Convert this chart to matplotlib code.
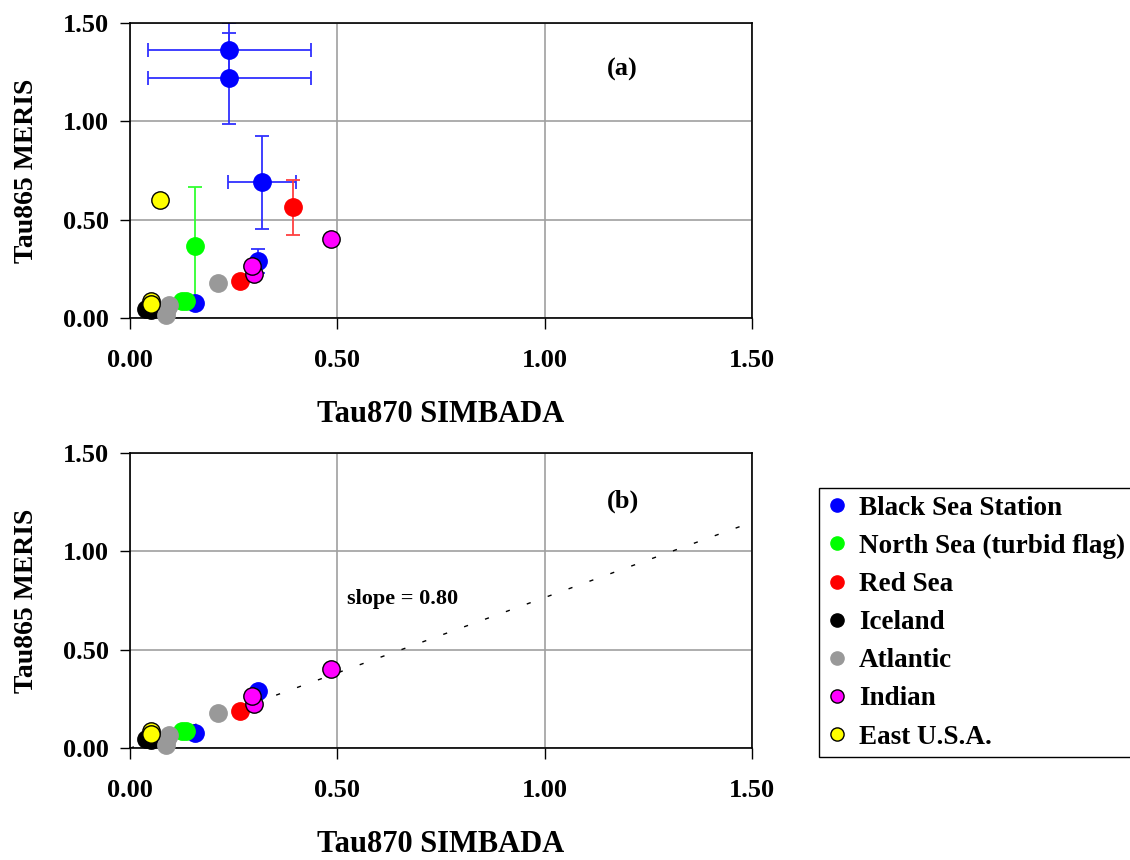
import matplotlib
matplotlib.use('Agg')
import matplotlib.pyplot as plt
from matplotlib.lines import Line2D

plt.rcParams['font.family'] = ['Liberation Serif', 'DejaVu Serif']
plt.rcParams['font.weight'] = 'bold'

# station names (legend order = drawing order)
stations = ['Black Sea Station', 'North Sea (turbid flag)', 'Red Sea', 'Iceland',
            'Atlantic', 'Indian', 'East U.S.A.']

# Tau870 SIMBADA (x), Tau865 MERIS (y), error bars, and whether the point is kept in panel (b)
black_sea_x = [0.240, 0.240, 0.319, 0.309, 0.158]
black_sea_y = [1.362, 1.218, 0.690, 0.292, 0.076]
black_sea_xerr = [0.197, 0.197, 0.082, 0.0, 0.0]
black_sea_yerr = [0.138, 0.230, 0.236, 0.061, 0.0]
black_sea_in_b = [False, False, False, True, True]

north_sea_x = [0.157, 0.126, 0.135]
north_sea_y = [0.369, 0.090, 0.088]
north_sea_xerr = [0.0, 0.0, 0.0]
north_sea_yerr = [0.296, 0.0, 0.0]
north_sea_in_b = [False, True, True]

red_sea_x = [0.393, 0.265]
red_sea_y = [0.563, 0.191]
red_sea_xerr = [0.0, 0.0]
red_sea_yerr = [0.139, 0.0]
red_sea_in_b = [False, True]

iceland_x = [0.038, 0.050, 0.045]
iceland_y = [0.045, 0.040, 0.055]

atlantic_x = [0.212, 0.094, 0.090, 0.087]
atlantic_y = [0.178, 0.068, 0.045, 0.018]

indian_x = [0.485, 0.299, 0.295]
indian_y = [0.401, 0.225, 0.267]

east_usa_x = [0.072, 0.050, 0.050]
east_usa_y = [0.600, 0.090, 0.075]
east_usa_in_b = [False, True, True]

slope_label = 'slope = 0.80'
fit_slope = 0.765  # as drawn in the figure

series = [
    (black_sea_x, black_sea_y, black_sea_xerr, black_sea_yerr, black_sea_in_b),
    (north_sea_x, north_sea_y, north_sea_xerr, north_sea_yerr, north_sea_in_b),
    (red_sea_x, red_sea_y, red_sea_xerr, red_sea_yerr, red_sea_in_b),
    (iceland_x, iceland_y, None, None, None),
    (atlantic_x, atlantic_y, None, None, None),
    (indian_x, indian_y, None, None, None),
    (east_usa_x, east_usa_y, None, None, east_usa_in_b),
]

face_colors = ['#0000FF', '#00FF00', '#FF0000', '#000000', '#999999', '#FF00FF', '#FFFF00']
edge_colors = ['#0000FF', '#00FF00', '#FF0000', '#000000', '#999999', '#000000', '#000000']
err_colors = ['#3030FF', '#30FF30', '#FF4040', None, None, None, None]


def setup_axes(ax):
    ax.set_xlim(0, 1.5)
    ax.set_ylim(0, 1.5)
    ticks = [0, 0.5, 1.0, 1.5]
    ax.set_xticks(ticks)
    ax.set_yticks(ticks)
    ax.set_xticklabels(['%.2f' % t for t in ticks])
    ax.set_yticklabels(['%.2f' % t for t in ticks])
    ax.grid(True, color='#A0A0A0', linewidth=1.2)
    ax.set_axisbelow(True)
    ax.tick_params(axis='x', direction='out', length=8, width=1, pad=14, labelsize=19)
    ax.tick_params(axis='y', direction='out', length=7, width=1, pad=8, labelsize=19)
    for s in ax.spines.values():
        s.set_color('black')
        s.set_linewidth(1.2)
    ax.set_xlabel('Tau870 SIMBADA', fontsize=22, fontweight='bold', labelpad=20)
    ax.set_ylabel('Tau865 MERIS', fontsize=20, fontweight='bold', labelpad=17)


fig = plt.figure(figsize=(11.3, 8.6), dpi=100)
ax_a = fig.add_axes([0.1150, 0.6299, 0.5505, 0.3437])
ax_b = fig.add_axes([0.1150, 0.1299, 0.5505, 0.3437])

for ax, panel in [(ax_a, 'a'), (ax_b, 'b')]:
    setup_axes(ax)
    for i, (xs, ys, xe, ye, keep) in enumerate(series):
        if panel == 'b' and keep is not None:
            idx = [k for k in range(len(xs)) if keep[k]]
        else:
            idx = list(range(len(xs)))
        px = [xs[k] for k in idx]
        py = [ys[k] for k in idx]
        if panel == 'a' and xe is not None:
            for k in idx:
                if xe[k] > 0 or ye[k] > 0:
                    ax.errorbar(xs[k], ys[k],
                                xerr=xe[k] if xe[k] > 0 else None,
                                yerr=ye[k] if ye[k] > 0 else None,
                                fmt='none', ecolor=err_colors[i], elinewidth=1.3,
                                capsize=5, capthick=1.3, zorder=2 + i * 0.1)
        ax.plot(px, py, linestyle='none', marker='o', markersize=12.5,
                markerfacecolor=face_colors[i], markeredgecolor=edge_colors[i],
                markeredgewidth=1.0, zorder=3 + i * 0.1, clip_on=False)

ax_a.text(1.186, 1.264, '(a)', fontsize=19, fontweight='bold', ha='center', va='center')
ax_b.text(1.19, 1.252, '(b)', fontsize=19, fontweight='bold', ha='center', va='center')

ax_b.plot([0, 1.5], [0, 1.5 * fit_slope], color='black', linewidth=1.0,
          linestyle=(0, (3, 13)), zorder=2)
ax_b.text(0.657, 0.756, slope_label, fontsize=16, fontweight='bold', ha='center', va='center')

handles = [Line2D([], [], linestyle='none', marker='o', markersize=9.5,
                  markerfacecolor=face_colors[i], markeredgecolor=edge_colors[i],
                  markeredgewidth=1.0) for i in range(len(stations))]
leg = fig.legend(handles, stations, loc='upper left', bbox_to_anchor=(0.7248, 0.4325),
                 frameon=True, fancybox=False, framealpha=1, edgecolor='black',
                 prop={'size': 19.5, 'weight': 'bold'}, handlelength=0.8,
                 handletextpad=0.4, labelspacing=0.485, borderpad=0.28, borderaxespad=0)
leg.get_frame().set_linewidth(1.0)

fig.savefig('out.png', dpi=100)
